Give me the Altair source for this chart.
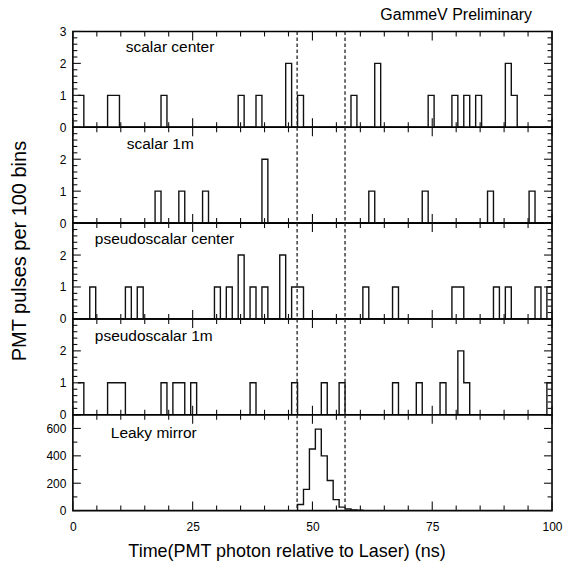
import altair as alt
import numpy as np
import pandas as pd

FONT = "Liberation Sans"

# ---- histogram binning (ns) ----
BIN_START = 1.05
BIN_WIDTH = 1.239
N_BINS = 80

# ---- data: (bin index, PMT pulses) ----
scalar_center_bins = [0, 5, 6, 14, 27, 30, 35, 37, 46, 50, 59, 63, 65, 67, 72, 73]
scalar_center_counts = [1, 1, 1, 1, 1, 1, 2, 1, 1, 2, 1, 1, 1, 1, 2, 1]

scalar_1m_bins = [13, 17, 21, 31, 49, 58, 69, 76]
scalar_1m_counts = [1, 1, 1, 2, 1, 1, 1, 1]

pseudo_center_bins = [2, 8, 10, 23, 25, 27, 29, 31, 34, 36, 37, 48, 53, 63, 64, 70, 72, 77, 79]
pseudo_center_counts = [1, 1, 1, 1, 1, 2, 1, 1, 2, 1, 1, 1, 1, 1, 1, 1, 1, 1, 1]

pseudo_1m_bins = [0, 5, 6, 7, 14, 16, 17, 19, 29, 36, 41, 44, 53, 57, 61, 64, 65, 79]
pseudo_1m_counts = [1, 1, 1, 1, 1, 1, 1, 1, 1, 1, 1, 1, 1, 1, 1, 2, 1, 1]

leaky_bins = [37, 38, 39, 40, 41, 42, 43, 44, 45, 46, 47]
leaky_counts = [45, 155, 450, 595, 400, 220, 80, 25, 12, 5, 2]

# timing window (ns)
window_ns = [46.8, 56.8]

panel_names = ["scalar center", "scalar 1m", "pseudoscalar center", "pseudoscalar 1m", "Leaky mirror"]

x_ticks = list(range(0, 101, 5))
x_labels = [0, 25, 50, 75, 100]

W, H = 480, 96
XSCALE = alt.Scale(domain=[0, 100], nice=False, zero=False)
INK = "#111111"


def hist_frame(bins, counts):
    full = np.zeros(N_BINS)
    for b, c in zip(bins, counts):
        full[b] = c
    edges = BIN_START + BIN_WIDTH * np.arange(N_BINS + 1)
    y = np.append(full, full[-1])
    return pd.DataFrame({"x": edges, "y": y})


def panel(name, bins, counts, ymax, ylabels, ystep_minor, ystep_major, label_pos,
          bottom=False, extra=None):
    if bottom:
        xaxis = alt.Axis(values=x_labels, ticks=False, domain=False, grid=False,
                         labelFlush=False, labelFontSize=12, labelPadding=11,
                         labelColor="black", format="d",
                         title="Time(PMT photon relative to Laser) (ns)",
                         titleFontSize=18, titleFontWeight="normal", titleColor="black",
                         titleX=214, titleAlign="center", titlePadding=10)
    else:
        xaxis = None
    xenc = alt.X("x:Q", scale=XSCALE, axis=xaxis)
    yenc = alt.Y("y:Q", scale=alt.Scale(domain=[0, ymax], nice=False, zero=False),
                 axis=alt.Axis(values=ylabels, ticks=False, domain=False, grid=False,
                               labelFontSize=12, labelPadding=7, labelFlush=False,
                               labelColor="black", title=None))

    layers = []
    layers.append(
        alt.Chart(hist_frame(bins, counts))
        .mark_line(interpolate="step-after", clip=True, color=INK, strokeWidth=1.4)
        .encode(x=xenc, y=yenc)
    )

    # inward x ticks (top and bottom)
    xt = pd.DataFrame({"x": x_ticks})
    for df, L in [(xt[xt.x % 25 == 0], 9), (xt[xt.x % 25 != 0], 5)]:
        layers.append(alt.Chart(df).mark_rule(color=INK, strokeWidth=1.1)
                      .encode(x=xenc, y=alt.value(0), y2=alt.value(L)))
        layers.append(alt.Chart(df).mark_rule(color=INK, strokeWidth=1.1)
                      .encode(x=xenc, y=alt.value(H), y2=alt.value(H - L)))

    # inward y ticks (left and right)
    yv = np.round(np.arange(0, ymax + 1e-9, ystep_minor), 6)
    is_major = np.isclose(np.mod(yv + 1e-9, ystep_major), 0, atol=1e-6)
    yt = pd.DataFrame({"y": yv})
    for df, L in [(yt[is_major], 8), (yt[~is_major], 4.5)]:
        layers.append(alt.Chart(df).mark_rule(color=INK, strokeWidth=1.1)
                      .encode(y=yenc, x=alt.value(0), x2=alt.value(L)))
        layers.append(alt.Chart(df).mark_rule(color=INK, strokeWidth=1.1)
                      .encode(y=yenc, x=alt.value(W), x2=alt.value(W - L)))

    # timing window
    layers.append(
        alt.Chart(pd.DataFrame({"x": window_ns}))
        .mark_rule(color="#222222", strokeWidth=1.3, strokeDash=[3.5, 2.5])
        .encode(x=xenc)
    )

    # panel label
    layers.append(
        alt.Chart(pd.DataFrame({"label": [name]}))
        .mark_text(align="left", baseline="alphabetic", fontSize=15.5, font=FONT, color="black")
        .encode(text="label:N", x=alt.value(label_pos[0]), y=alt.value(label_pos[1]))
    )
    if extra is not None:
        layers.extend(extra)
    return alt.layer(*layers).properties(width=W, height=H)


prelim = (
    alt.Chart(pd.DataFrame({"label": ["GammeV Preliminary"]}))
    .mark_text(align="left", baseline="alphabetic", fontSize=16, font=FONT, color="black")
    .encode(text="label:N", x=alt.value(308), y=alt.value(-11))
)
ytitle = (
    alt.Chart(pd.DataFrame({"label": ["PMT pulses per 100 bins"]}))
    .mark_text(align="center", baseline="middle", fontSize=20, font=FONT, angle=270, color="black")
    .encode(text="label:N", x=alt.value(-53), y=alt.value(28))
)

p1 = panel(panel_names[0], scalar_center_bins, scalar_center_counts, 3, [0, 1, 2, 3], 0.2, 1, (53, 21), extra=[prelim])
p2 = panel(panel_names[1], scalar_1m_bins, scalar_1m_counts, 3, [0, 1, 2], 0.2, 1, (54, 22))
p3 = panel(panel_names[2], pseudo_center_bins, pseudo_center_counts, 3, [0, 1, 2], 0.2, 1, (22, 21), extra=[ytitle])
p4 = panel(panel_names[3], pseudo_1m_bins, pseudo_1m_counts, 3, [0, 1, 2], 0.2, 1, (22, 22))
p5 = panel(panel_names[4], leaky_bins, leaky_counts, 700, [0, 200, 400, 600], 100, 200, (38, 23), bottom=True)

chart = (
    alt.vconcat(p1, p2, p3, p4, p5, spacing=0)
    .properties(bounds="flush", padding={"left": 9, "top": 6, "right": 0, "bottom": 0},
                background="white")
    .configure_view(stroke="black", strokeWidth=1.6)
    .configure_axis(labelFont=FONT, titleFont=FONT)
)

chart.save("out.html", embed_options={"renderer": "svg", "actions": False})
